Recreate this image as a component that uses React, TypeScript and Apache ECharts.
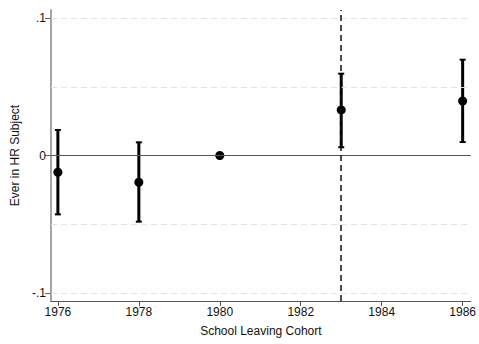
import React, { useEffect, useRef } from "react";
import * as echarts from "echarts";

// Cohort estimates with 95% confidence bounds (1980 is the reference cohort)
const cohorts = [1976, 1978, 1980, 1983, 1986];
const estimates = [-0.0122, -0.0195, 0, 0.0332, 0.0397];
const ciLow: (number | null)[] = [-0.0429, -0.0482, null, 0.006, 0.0098];
const ciHigh: (number | null)[] = [0.0186, 0.0096, null, 0.0596, 0.0698];

const xTicks = [1976, 1978, 1980, 1982, 1984, 1986];
const yTicks = [-0.1, 0, 0.1];
const yGridLines = [-0.1, -0.05, 0.05, 0.1];
const cutoffYear = 1983;

const FONT = "'Liberation Sans', Arial, Helvetica, sans-serif";

const fmtY = (v: number) => {
  if (Math.abs(v) < 1e-9) return "0";
  const s = String(Math.round(v * 10) / 10);
  return s.replace(/^(-?)0\./, "$1.");
};

export default function App() {
  const ref = useRef<HTMLDivElement>(null);

  useEffect(() => {
    if (!ref.current) return;
    const chart = echarts.init(ref.current, undefined, { renderer: "svg" });

    const errData = cohorts
      .map((c, i) => [c, ciLow[i], ciHigh[i]])
      .filter((d) => d[1] != null && d[2] != null);

    chart.setOption({
      animation: false,
      backgroundColor: "#ffffff",
      grid: { left: 51, right: 7, top: 10, bottom: 43 },
      xAxis: {
        type: "value",
        min: 1975.83,
        max: 1986.2,
        name: "School Leaving Cohort",
        nameLocation: "middle",
        nameGap: 24,
        nameTextStyle: { fontFamily: FONT, fontSize: 12, color: "#111" },
        axisLine: { show: true, onZero: false, lineStyle: { color: "#555", width: 1 } },
        axisTick: {
          show: true,
          length: 5,
          customValues: xTicks,
          lineStyle: { color: "#555", width: 1 },
        },
        axisLabel: {
          customValues: xTicks,
          fontFamily: FONT,
          fontSize: 12,
          color: "#111",
          margin: 5,
          formatter: (v: number) => String(Math.round(v)),
        },
        splitLine: { show: false },
      },
      yAxis: {
        type: "value",
        min: -0.106,
        max: 0.106,
        name: "Ever in HR Subject",
        nameLocation: "middle",
        nameGap: 30,
        nameTextStyle: { fontFamily: FONT, fontSize: 12, color: "#111" },
        axisLine: { show: true, onZero: false, lineStyle: { color: "#a6a6a6", width: 2 } },
        axisTick: {
          show: true,
          length: 6,
          customValues: yTicks,
          lineStyle: { color: "#666", width: 1 },
        },
        axisLabel: {
          customValues: yTicks,
          fontFamily: FONT,
          fontSize: 12,
          color: "#111",
          margin: 5,
          formatter: (v: number) => fmtY(v),
        },
        splitLine: { show: false },
      },
      series: [
        {
          // reference lines: light dashed grid, zero line and the cohort cutoff
          type: "line",
          data: [],
          silent: true,
          markLine: {
            symbol: "none",
            silent: true,
            label: { show: false },
            data: [
              ...yGridLines.map((v) => ({
                yAxis: v,
                lineStyle: { color: "#e3e3e3", width: 1, type: [6, 4] },
              })),
              { yAxis: 0, lineStyle: { color: "#555", width: 1, type: "solid" } },
              { xAxis: cutoffYear, lineStyle: { color: "#111", width: 1.5, type: [6, 4] } },
            ],
          },
        },
        {
          type: "custom",
          silent: true,
          data: errData,
          renderItem: (params: any, api: any) => {
            const x = api.value(0);
            const lo = api.coord([x, api.value(1)]);
            const hi = api.coord([x, api.value(2)]);
            const cap = 3;
            const stroke = { stroke: "#000", lineWidth: 3 };
            const capStyle = { stroke: "#000", lineWidth: 2 };
            return {
              type: "group",
              children: [
                { type: "line", shape: { x1: lo[0], y1: lo[1], x2: hi[0], y2: hi[1] }, style: stroke },
                { type: "line", shape: { x1: lo[0] - cap, y1: lo[1], x2: lo[0] + cap, y2: lo[1] }, style: capStyle },
                { type: "line", shape: { x1: hi[0] - cap, y1: hi[1], x2: hi[0] + cap, y2: hi[1] }, style: capStyle },
              ],
            };
          },
          z: 3,
        },
        {
          type: "scatter",
          data: cohorts.map((c, i) => [c, estimates[i]]),
          symbol: "circle",
          symbolSize: 9,
          itemStyle: { color: "#000", opacity: 1 },
          silent: true,
          z: 4,
        },
      ],
    });

    return () => chart.dispose();
  }, []);

  return <div ref={ref} style={{ width: 479, height: 344, position: "absolute", left: 0, top: 0 }} />;
}
